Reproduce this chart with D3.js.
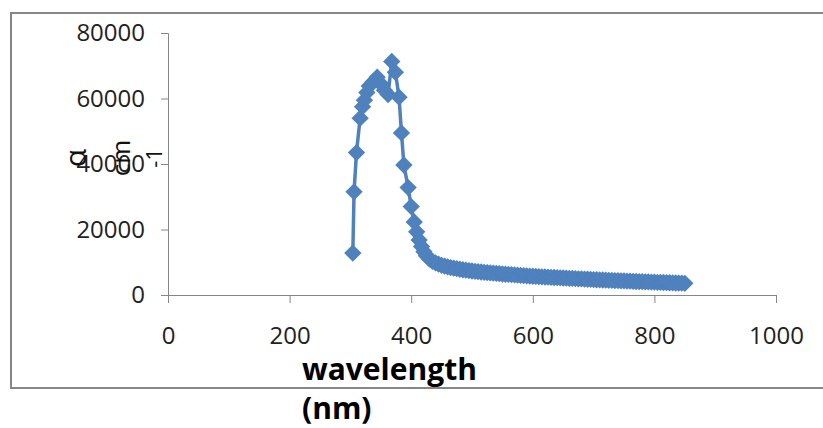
<!DOCTYPE html>
<html>
<head>
<meta charset="utf-8">
<script src="https://cdn.jsdelivr.net/npm/d3@7"></script>
<style>
body { margin: 0; background: #fff; }
svg { display: block; }
</style>
</head>
<body>
<div class="container"></div>
<script>
const wd = 823
const ht = 428

// absorption data
const wavelength = [304, 306, 310, 316, 320, 323, 327, 331, 337, 344, 350, 356, 362, 368, 374, 380, 384, 388, 395, 400,
  405, 409, 413, 417, 421, 425, 430, 435, 440, 445,
  450, 455, 460, 465, 470, 475, 480, 485, 490, 495,
  500, 505, 510, 515, 520, 525, 530, 535, 540, 545,
  550, 555, 560, 565, 570, 575, 580, 585, 590, 595,
  600, 605, 610, 615, 620, 625, 630, 635, 640, 645,
  650, 655, 660, 665, 670, 675, 680, 685, 690, 695,
  700, 705, 710, 715, 720, 725, 730, 735, 740, 745,
  750, 755, 760, 765, 770, 775, 780, 785, 790, 795,
  800, 805, 810, 815, 820, 825, 830, 835, 840, 845, 850]
const alpha = [12800, 31500, 43500, 54000, 57500, 59500, 61800, 63800, 65000, 66500, 64500, 62500, 61200, 71300, 68000, 60400, 49500, 39700, 32800, 27000,
  22300, 19300, 16800, 14800, 13200, 12000, 11000, 10300, 9800, 9400,
  9050, 8800, 8580, 8380, 8200, 8030, 7870, 7720, 7580, 7450,
  7330, 7220, 7120, 7020, 6930, 6840, 6750, 6660, 6580, 6500,
  6420, 6340, 6270, 6200, 6120, 6050, 5980, 5910, 5850, 5790,
  5730, 5670, 5610, 5560, 5500, 5450, 5400, 5350, 5300, 5250,
  5200, 5150, 5100, 5050, 5000, 4950, 4900, 4850, 4800, 4750,
  4700, 4650, 4610, 4570, 4530, 4490, 4450, 4410, 4370, 4330,
  4290, 4250, 4210, 4170, 4130, 4100, 4060, 4020, 3990, 3950,
  3920, 3880, 3850, 3810, 3780, 3740, 3710, 3670, 3640, 3600, 3560]

const xTicks = [0, 200, 400, 600, 800, 1000]
const yTicks = [0, 20000, 40000, 60000, 80000]

const blue = "#4f81bd"
const grey = "#868686"
const fnt = "'Open Sans', sans-serif"

const svgC = d3.select(".container")
  .append("svg")
  .attr("width", wd)
  .attr("height", ht)

// chart area border
svgC.append("rect")
  .attr("x", 11).attr("y", 13)
  .attr("width", 830).attr("height", 375)
  .attr("fill", "none")
  .attr("stroke", grey)
  .attr("stroke-width", 2)

const x = d3.scaleLinear().domain([0, 1000]).range([168, 776])
const y = d3.scaleLinear().domain([0, 80000]).range([295, 33])

const yAxis = svgC.append("g")
  .attr("transform", "translate(168,0)")
  .call(d3.axisLeft(y).tickValues(yTicks).tickSize(7).tickPadding(16).tickFormat(d3.format("d")))
const xAxis = svgC.append("g")
  .attr("transform", "translate(0,295)")
  .call(d3.axisBottom(x).tickValues(xTicks).tickSize(8).tickPadding(24).tickFormat(d3.format("d")))

for (const ax of [xAxis, yAxis]) {
  ax.select(".domain").attr("stroke", grey)
  ax.selectAll(".tick line").attr("stroke", grey)
  ax.selectAll("text")
    .attr("fill", "#222")
    .style("font-family", fnt)
    .style("font-size", "24px")
}

const pts = wavelength.map((d, i) => [d, alpha[i]])

const lineFunc = d3.line()
  .x(d => x(d[0]))
  .y(d => y(d[1]))

svgC.append("path")
  .attr("d", lineFunc(pts))
  .attr("fill", "none")
  .attr("stroke", blue)
  .attr("stroke-width", 3.5)
  .attr("stroke-linejoin", "round")

const diamond = d3.symbol().type(d3.symbolSquare).size(150)

svgC.selectAll(".mk")
  .data(pts)
  .enter()
  .append("path")
  .attr("class", "mk")
  .attr("d", diamond)
  .attr("transform", d => "translate(" + x(d[0]) + "," + y(d[1]) + ") rotate(45)")
  .attr("fill", blue)

// axis titles
svgC.append("text")
  .attr("x", 302).attr("y", 380)
  .style("font-family", fnt)
  .style("font-weight", "bold")
  .style("font-size", "30px")
  .text("wavelength")
svgC.append("text")
  .attr("x", 302).attr("y", 419)
  .style("font-family", fnt)
  .style("font-weight", "bold")
  .style("font-size", "30px")
  .text("(nm)")

const yLab = [["α", 86, 30], ["cm", 130, 26], ["-1", 162, 22]]
svgC.selectAll(".ylab")
  .data(yLab)
  .enter()
  .append("text")
  .attr("class", "ylab")
  .attr("transform", d => "translate(" + d[1] + ",158) rotate(-90)")
  .attr("text-anchor", "middle")
  .attr("fill", "#111")
  .style("font-family", fnt)
  .style("font-size", d => d[2] + "px")
  .text(d => d[0])
</script>
</body>
</html>
